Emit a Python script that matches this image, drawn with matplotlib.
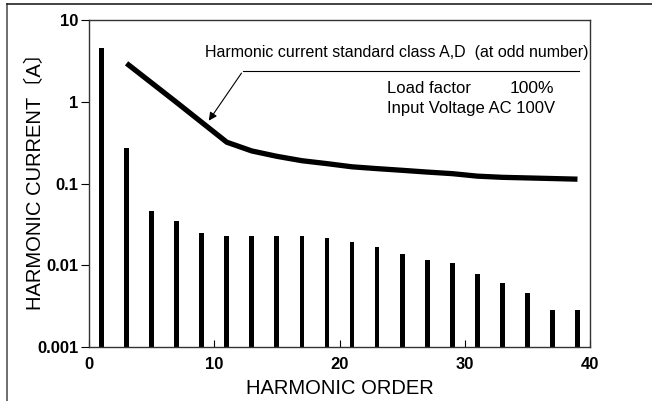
import numpy as np
import matplotlib.pyplot as plt
from matplotlib.lines import Line2D

# harmonic orders (odd only)
orders = [1, 3, 5, 7, 9, 11, 13, 15, 17, 19, 21, 23, 25, 27, 29, 31, 33, 35, 37, 39]
# measured harmonic current [A]
current = [4.5, 0.27, 0.046, 0.035, 0.0245, 0.023, 0.023, 0.023, 0.023, 0.0215,
           0.019, 0.0168, 0.0139, 0.0115, 0.0108, 0.0078, 0.0061, 0.0046, 0.0028, 0.0028]

# standard limit line (class A,D)
std_orders = [3, 5, 7, 9, 11, 13, 15, 17, 19, 21, 23, 25, 27, 29, 31, 33, 35, 37, 39]
std_limit = [2.95, 1.70, 0.98, 0.56, 0.32, 0.25, 0.215, 0.19, 0.175, 0.16, 0.152,
             0.145, 0.138, 0.132, 0.123, 0.119, 0.117, 0.115, 0.113]

fam = ['Liberation Sans', 'Noto Sans CJK JP']
plt.rcParams['font.family'] = fam

fig = plt.figure(figsize=(6.52, 4.01), dpi=100)
ax = fig.add_axes([89 / 652, 54 / 401, 501 / 652, 327 / 401])

ax.bar(orders, [c - 0.001 for c in current], bottom=0.001, width=0.38, color='black')
ax.plot(std_orders, std_limit, color='black', lw=3.8, solid_capstyle='butt')

ax.set_yscale('log')
ax.set_ylim(0.001, 10)
ax.set_xlim(0, 40)
ax.set_xticks([0, 10, 20, 30, 40])
ax.set_yticks([0.001, 0.01, 0.1, 1, 10])
ax.set_yticklabels(['0.001', '0.01', '0.1', '1', '10'])
ax.minorticks_off()
ax.tick_params(axis='x', direction='in', length=5, pad=7, labelsize=12)
ax.tick_params(axis='y', direction='out', length=6, pad=1.5, labelsize=12)
for lbl in ax.get_xticklabels() + ax.get_yticklabels():
    lbl.set_fontweight('bold')
for s in ax.spines.values():
    s.set_color('#333333')
    s.set_linewidth(1.0)

ax.set_xlabel('HARMONIC ORDER', fontsize=14.5, labelpad=5)
ax.set_ylabel('HARMONIC CURRENT〔A〕', fontsize=14.5, va='center')
ax.yaxis.set_label_coords((35 - 89) / 501, 0.52)

# annotation with underline leader
ax.text(9.3, 4.0, 'Harmonic current standard class A,D  (at odd number)', fontsize=11.5,
        va='center', ha='left')
ax.plot([12.3, 39.1], [2.39, 2.39], color='black', lw=0.8)
ax.annotate('', xy=(9.44, 0.55), xytext=(12.3, 2.39),
            arrowprops=dict(arrowstyle='-|>', color='black', lw=0.8, mutation_scale=12))

ax.text(23.8, 1.45, 'Load factor', fontsize=12, va='center', ha='left')
ax.text(33.6, 1.45, '100%', fontsize=12.5, va='center', ha='left')
ax.text(23.8, 0.82, 'Input Voltage AC 100V', fontsize=12, va='center', ha='left')

# outer frame (left and top edges)
fig.add_artist(Line2D([7 / 652, 7 / 652], [0, 1 - 4 / 401], color='#555555', lw=1.2))
fig.add_artist(Line2D([7 / 652, 1], [1 - 4 / 401, 1 - 4 / 401], color='#222222', lw=1.2))

fig.savefig('out.png', dpi=100)
